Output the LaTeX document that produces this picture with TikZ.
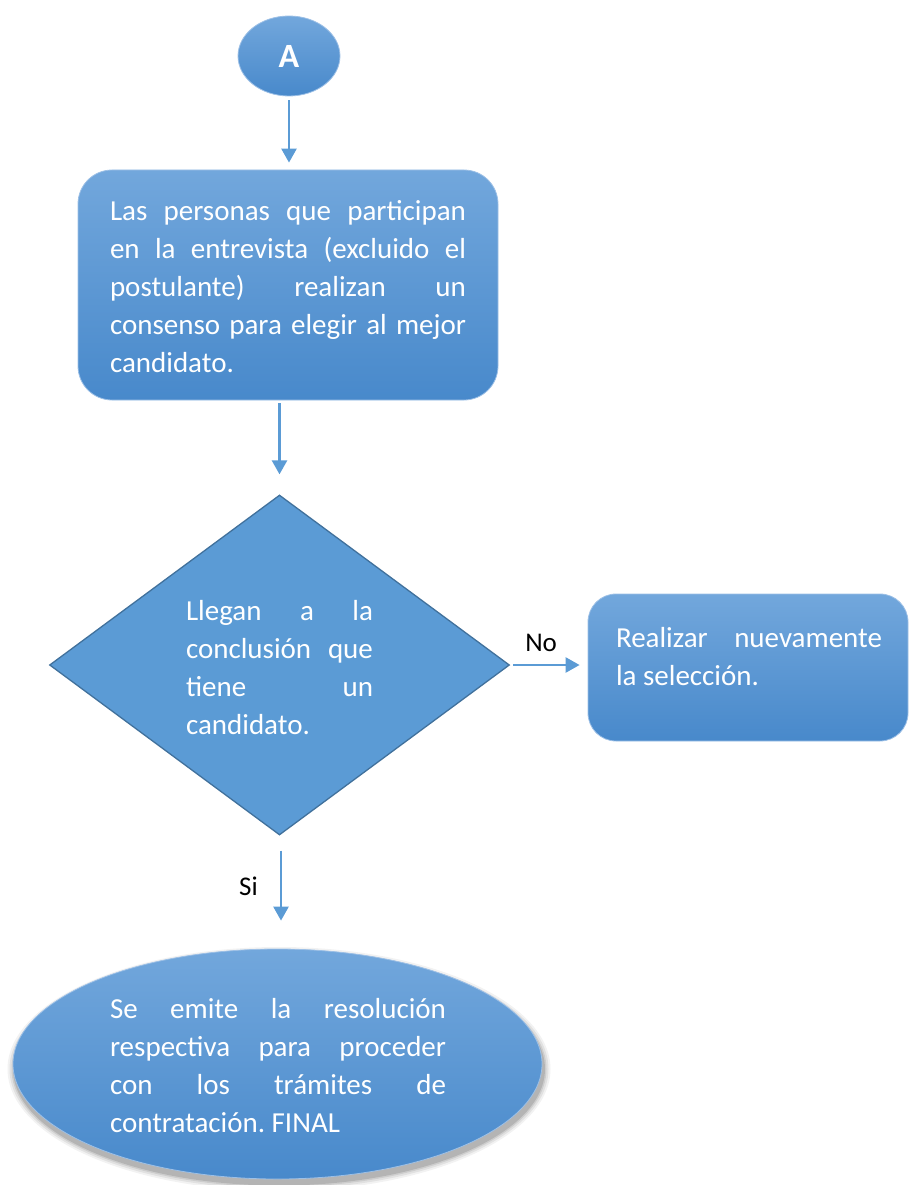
\documentclass[tikz,border=0pt]{standalone}
\usepackage{fontspec}
\setmainfont{Carlito}
\usetikzlibrary{shapes.geometric,arrows.meta}
\definecolor{flowblue}{HTML}{5B9BD5}
\definecolor{gradtop}{HTML}{72A7DC}
\definecolor{gradbot}{HTML}{4889CB}
\definecolor{edgelight}{HTML}{9DC0E6}
\definecolor{edgedark}{HTML}{41719C}
\frenchspacing
% one justified line of a text block
\newcommand\jline[1]{\leavevmode\hbox to \hsize{\spaceskip=0pt\xspaceskip=0pt #1}}
\begin{document}
\begin{tikzpicture}[x=1pt,y=-1pt,
  gradfill/.style={top color=gradtop,bottom color=gradbot,draw=edgelight,line width=0.8pt},
  txt/.style={text=white,font=\fontsize{29}{38}\selectfont,align=justify,inner sep=0pt},
  lbl/.style={text=black,font=\fontsize{27}{30}\selectfont,inner sep=0pt},
  flow/.style={draw=flowblue,line width=2.5pt,-{Triangle[width=15pt,length=14pt]}}]
\useasboundingbox (0,0) rectangle (912,1185);

% start connector
\node[ellipse,gradfill,minimum width=102pt,minimum height=80pt,
  text=white,font=\bfseries\fontsize{34}{36}\selectfont] (start) at (289,56) {A};

% consensus step
\node[rectangle,rounded corners=34pt,gradfill,minimum width=420pt,minimum height=230pt] (consensus) at (288,285) {};
\node[txt,text width=356pt] (consensustext) at (288,287) {%
  \jline{Las personas que participan}\\
  \jline{en la entrevista (excluido el}\\
  \jline{postulante) realizan un}\\
  \jline{consenso para elegir al mejor}\\
  candidato.};

% decision
\node[diamond,inner sep=0pt,minimum width=460pt,minimum height=340pt,
  fill=flowblue,draw=edgedark,line width=1.3pt] (decision) at (279.5,665) {};
\node[txt,text width=187pt] (decisiontext) at (279.5,668) {%
  \jline{Llegan a la}\\
  \jline{conclusión que}\\
  \jline{tiene un}\\
  candidato.};

% repeat selection
\node[rectangle,rounded corners=28pt,gradfill,minimum width=320pt,minimum height=147pt] (repeat) at (748,667.5) {};
\node[txt,text width=266pt] (repeattext) at (749,657) {%
  \jline{Realizar nuevamente}\\
  la selección.};

% final step with soft shadow
\foreach \s/\o in {14/0.05,10/0.07,6/0.09,3/0.12}{
  \fill[black,opacity=\o] (279,1069) ellipse ({264.5+\s/2} and {115+\s/2});
}
\node[ellipse,gradfill,minimum width=529pt,minimum height=230pt] (final) at (277.5,1064) {};
\node[txt,text width=336pt] (finaltext) at (278,1066) {%
  \jline{Se emite la resolución}\\
  \jline{respectiva para proceder}\\
  \jline{con los trámites de}\\
  contratación. FINAL};

% connectors
\draw[flow,shorten <=4pt,shorten >=7pt] (start.south) -- (start.south |- consensus.north);
\draw[flow,shorten <=3pt,shorten >=20pt] (decision.north |- consensus.south) -- (decision.north);
\draw[flow,shorten <=3pt,shorten >=8pt] (decision.east) -- (repeat.west |- decision.east)
  node[lbl,pos=0.4,above=12pt] (nolabel) {No};
\draw[flow,shorten <=15pt,shorten >=28pt] ([xshift=1.5pt]decision.south) -- ([xshift=1.5pt]decision.south |- final.north)
  node[lbl,pos=0.45,left=22pt] (silabel) {Si};
\end{tikzpicture}
\end{document}
